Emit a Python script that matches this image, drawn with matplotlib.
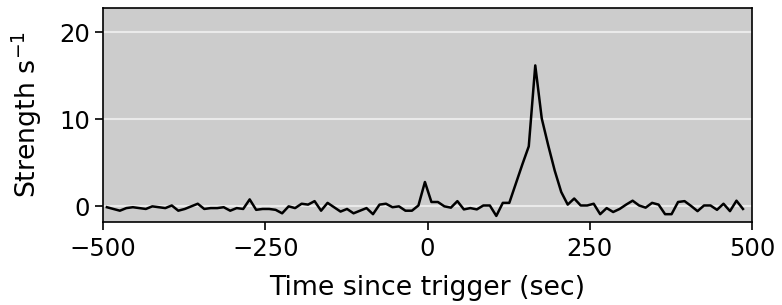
import numpy as np
import matplotlib
matplotlib.use('Agg')
import matplotlib.pyplot as plt

# time bins (sec since trigger), 10 s spacing
time_start = -494
time_step = 10
strength = [
    -0.1, -0.3, -0.5, -0.2, -0.1, -0.2, -0.3, 0.0, -0.1, -0.2,
    0.1, -0.5, -0.3, 0.0, 0.3, -0.3, -0.2, -0.2, -0.1, -0.5,
    -0.2, -0.3, 0.8, -0.4, -0.3, -0.3, -0.4, -0.8, 0.0, -0.2,
    0.3, 0.2, 0.6, -0.5, 0.4, -0.1, -0.6, -0.3, -0.8, -0.5,
    -0.2, -0.9, 0.2, 0.3, -0.1, 0.0, -0.5, -0.5, 0.1, 2.8,
    0.5, 0.5, 0.0, -0.15, 0.6, -0.35, -0.2, -0.35, 0.1, 0.1,
    -1.1, 0.4, 0.4, 2.6, 4.8, 6.9, 16.2, 10.1, 7.0, 4.1,
    1.65, 0.2, 0.9, 0.1, 0.1, 0.3, -0.9, -0.2, -0.65, -0.3,
    0.2, 0.65, 0.1, -0.15, 0.4, 0.2, -0.9, -0.9, 0.5, 0.6,
    0.05, -0.55, 0.1, 0.1, -0.4, 0.3, -0.55, 0.65, -0.3,
]
time = time_start + time_step * np.arange(len(strength))

fs_tick = 17.5
fs_label = 19.3
fig = plt.figure(figsize=(7.82, 3.05), dpi=100)
ax = fig.add_axes([0.1317, 0.2721, 0.83, 0.7017])
ax.set_facecolor('#cccccc')
ax.yaxis.grid(True, color='white', linewidth=1.5, alpha=0.6)
ax.set_axisbelow(True)

ax.plot(time, strength, color='black', linewidth=1.8)

ax.set_xlim(-500, 500)
ax.set_ylim(-1.8, 22.8)
ax.set_xticks([-500, -250, 0, 250, 500])
ax.set_yticks([0, 10, 20])
ax.tick_params(labelsize=fs_tick, length=6, width=1.2)
ax.tick_params(axis='x', pad=5)
for s in ax.spines.values():
    s.set_linewidth(1.2)

ax.set_xlabel('Time since trigger (sec)', fontsize=fs_label, labelpad=10)
ax.set_ylabel('Strength s$^{-1}$', fontsize=fs_label, labelpad=11)

fig.savefig('out.png', dpi=100)
